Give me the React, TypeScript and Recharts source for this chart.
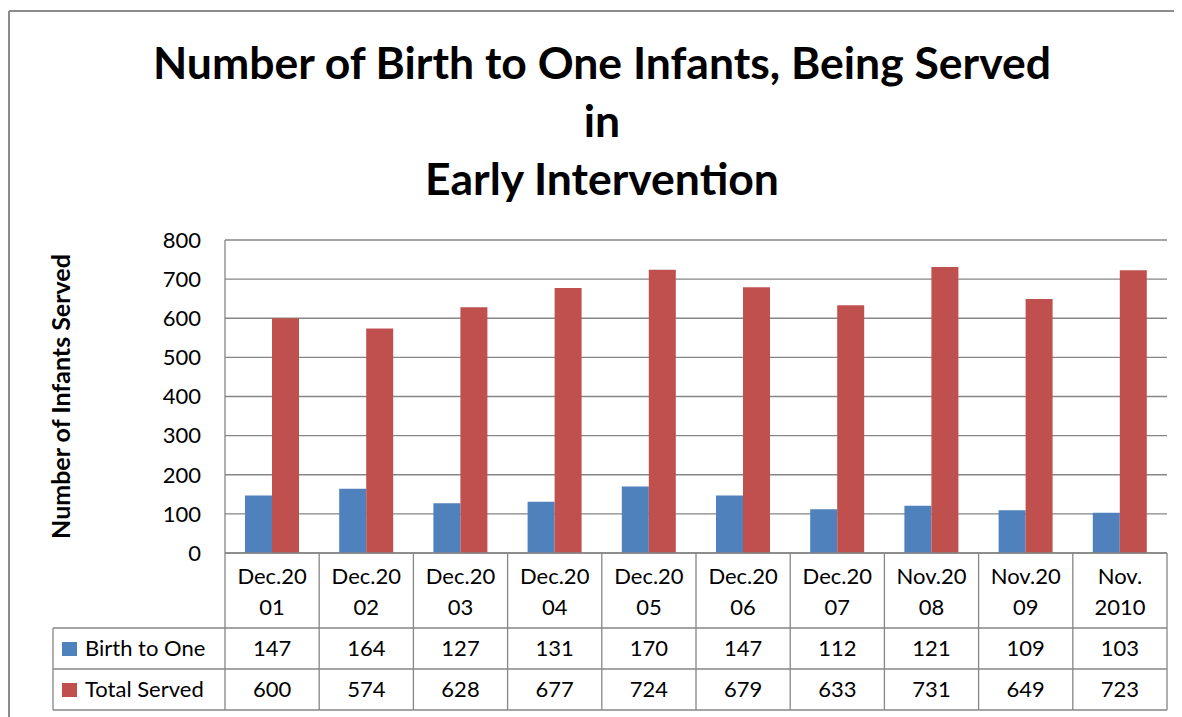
import { BarChart, Bar, XAxis, YAxis, CartesianGrid, Customized, Label } from 'recharts';

const categories = ['Dec.2001', 'Dec.2002', 'Dec.2003', 'Dec.2004', 'Dec.2005', 'Dec.2006', 'Dec.2007', 'Nov.2008', 'Nov.2009', 'Nov. 2010'];
const categoryLines = [
  ['Dec.20', '01'],
  ['Dec.20', '02'],
  ['Dec.20', '03'],
  ['Dec.20', '04'],
  ['Dec.20', '05'],
  ['Dec.20', '06'],
  ['Dec.20', '07'],
  ['Nov.20', '08'],
  ['Nov.20', '09'],
  ['Nov.', '2010'],
];
const birthToOne = [147, 164, 127, 131, 170, 147, 112, 121, 109, 103];
const totalServed = [600, 574, 628, 677, 724, 679, 633, 731, 649, 723];
const yTicks = [0, 100, 200, 300, 400, 500, 600, 700, 800];
const titleLines = ['Number of Birth to One Infants, Being Served', 'in', 'Early Intervention'];

const seriesInfo = [
  { key: 'birth', name: 'Birth to One', color: '#4F81BD', values: birthToOne },
  { key: 'total', name: 'Total Served', color: '#C0504D', values: totalServed },
];

const data = categories.map((c, i) => ({ cat: c, birth: birthToOne[i], total: totalServed[i] }));

const W = 1174;
const H = 709;
const FONT = 'Lato, "Open Sans", sans-serif';
const GRID = '#868686';
const PLOT_LEFT = 217;
const PLOT_RIGHT = 1159;
const BAND = (PLOT_RIGHT - PLOT_LEFT) / categories.length;
const LEGEND_LEFT = 45;
const ROW_TOP = 75; // offset from axis to first value row
const ROW_H = 41;

// each x tick draws its column of the data table under the plot
function TableTick(props: any) {
  const { x, y, index } = props;
  const left = x - BAND / 2;
  const right = x + BAND / 2;
  const lines = categoryLines[index];
  const last = index === categories.length - 1;
  return (
    <g fontFamily={FONT} fontSize={22} fill="#000">
      <line x1={left} x2={left} y1={y} y2={y + ROW_TOP + ROW_H * 2} stroke={GRID} strokeWidth={1.3} />
      {last && <line x1={right} x2={right} y1={y} y2={y + ROW_TOP + ROW_H * 2} stroke={GRID} strokeWidth={1.3} />}
      {[0, 1, 2].map((r) => (
        <line key={r} x1={left} x2={right} y1={y + ROW_TOP + ROW_H * r} y2={y + ROW_TOP + ROW_H * r} stroke={GRID} strokeWidth={1.3} />
      ))}
      <text x={x} y={y + 31} textAnchor="middle">{lines[0]}</text>
      <text x={x} y={y + 62} textAnchor="middle">{lines[1]}</text>
      {seriesInfo.map((s, r) => (
        <text key={s.key} x={x} y={y + ROW_TOP + ROW_H * r + 28} textAnchor="middle">
          {s.values[index]}
        </text>
      ))}
      {index === 0 && (
        <g>
          <line x1={LEGEND_LEFT} x2={LEGEND_LEFT} y1={y + ROW_TOP} y2={y + ROW_TOP + ROW_H * 2} stroke={GRID} strokeWidth={1.3} />
          {[0, 1, 2].map((r) => (
            <line key={r} x1={LEGEND_LEFT} x2={left} y1={y + ROW_TOP + ROW_H * r} y2={y + ROW_TOP + ROW_H * r} stroke={GRID} strokeWidth={1.3} />
          ))}
          {seriesInfo.map((s, r) => (
            <g key={s.key}>
              <rect x={LEGEND_LEFT + 9} y={y + ROW_TOP + ROW_H * r + 14} width={15} height={14} fill={s.color} />
              <text x={LEGEND_LEFT + 32} y={y + ROW_TOP + ROW_H * r + 28}>{s.name}</text>
            </g>
          ))}
        </g>
      )}
    </g>
  );
}

function Decorations() {
  return (
    <g>
      <line x1={1} x2={W} y1={3} y2={3} stroke="#8c8c8c" strokeWidth={2} />
      <line x1={1} x2={1} y1={3} y2={H} stroke="#8c8c8c" strokeWidth={2} />
      {titleLines.map((t, i) => (
        <text key={i} x={594} y={71 + i * 58} textAnchor="middle" fontFamily={FONT} fontWeight="bold" fontSize={44.5} fill="#000">
          {t}
        </text>
      ))}
    </g>
  );
}

export default function App() {
  return (
    <div style={{ width: W, height: H }}>
      <BarChart
        width={W}
        height={H}
        data={data}
        margin={{ top: 232, right: W - PLOT_RIGHT, bottom: 4, left: PLOT_LEFT - 60 }}
        barGap={0}
        barSize={27}
      >
        <Customized component={Decorations} />
        <CartesianGrid vertical={false} stroke={GRID} strokeWidth={1.3} />
        <XAxis
          dataKey="cat"
          height={160}
          interval={0}
          tickLine={false}
          tickSize={0}
          tickMargin={0}
          axisLine={{ stroke: GRID, strokeWidth: 1.3 }}
          tick={<TableTick />}
        />
        <YAxis
          width={60}
          domain={[0, 800]}
          ticks={yTicks}
          interval={0}
          tickLine={false}
          tickSize={0}
          tickMargin={24}
          axisLine={{ stroke: GRID, strokeWidth: 1.3 }}
          tick={{ fontFamily: FONT, fontSize: 22, fill: '#000' }}
        >
          <Label
            content={() => (
              <text
                x={0}
                y={0}
                transform={`translate(62, ${(232 + 545) / 2}) rotate(-90)`}
                textAnchor="middle"
                fontFamily={FONT}
                fontWeight="bold"
                fontSize={25}
                fill="#000"
              >
                Number of Infants Served
              </text>
            )}
          />
        </YAxis>
        {seriesInfo.map((s) => (
          <Bar key={s.key} dataKey={s.key} name={s.name} fill={s.color} isAnimationActive={false} />
        ))}
      </BarChart>
    </div>
  );
}
